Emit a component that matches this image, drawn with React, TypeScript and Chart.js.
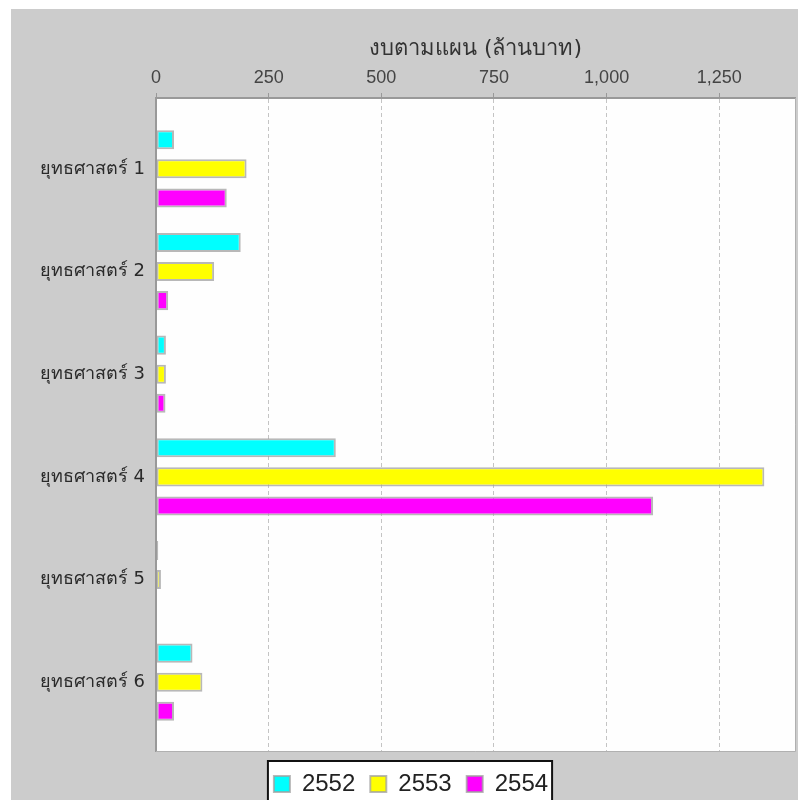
import React, { useEffect, useRef } from 'react';
import { Chart, registerables } from 'chart.js';

Chart.register(...registerables);

const categories = ['ยุทธศาสตร์ 1', 'ยุทธศาสตร์ 2', 'ยุทธศาสตร์ 3', 'ยุทธศาสตร์ 4', 'ยุทธศาสตร์ 5', 'ยุทธศาสตร์ 6'];
const seriesNames = ['2552', '2553', '2554'];
const values2552 = [40, 188, 22, 399, 5, 81];
const values2553 = [201, 129, 22, 1350, 11, 103];
const values2554 = [157, 27, 21, 1103, 0, 40];
const xTickValues = [0, 250, 500, 750, 1000, 1250];
const xAxisTitle = 'งบตามแผน (ล้านบาท)';
const seriesColors = ['#00ffff', '#ffff00', '#ff00ff'];

const FONT = "'DejaVu Sans', 'Liberation Sans', sans-serif";

const framePlugin = {
  id: 'framePlugin',
  afterLayout(chart: any) {
    const lg = chart.legend;
    if (lg) {
      lg.top += 6;
      lg.bottom += 6;
    }
  },
  beforeDraw(chart: any) {
    const { ctx, chartArea: a, width, height } = chart;
    ctx.save();
    ctx.fillStyle = '#cccccc';
    ctx.fillRect(11, 9, width - 11, height - 9);
    ctx.fillStyle = '#fefefe';
    ctx.fillRect(a.left, a.top, a.right - a.left, a.bottom - a.top);
    const lg = chart.legend;
    if (lg && lg.legendHitBoxes && lg.legendHitBoxes.length) {
      const hb = lg.legendHitBoxes;
      const last = hb[hb.length - 1];
      const l = hb[0].left - 6;
      const r = last.left + last.width + 4;
      const t = hb[0].top - 11;
      ctx.fillStyle = '#ffffff';
      ctx.fillRect(l, t, r - l, height - t + 5);
      ctx.strokeStyle = '#111111';
      ctx.lineWidth = 2;
      ctx.strokeRect(l, t, r - l, height - t + 5);
    }
    ctx.restore();
  },
  afterDatasetsDraw(chart: any) {
    const { ctx, chartArea: a } = chart;
    ctx.save();
    ctx.strokeStyle = '#b0b0b0';
    ctx.lineWidth = 1;
    ctx.beginPath();
    ctx.moveTo(a.right + 0.5, a.top);
    ctx.lineTo(a.right + 0.5, a.bottom + 0.5);
    ctx.lineTo(a.left, a.bottom + 0.5);
    ctx.stroke();
    ctx.restore();
  },
};

export default function App() {
  const ref = useRef<HTMLCanvasElement | null>(null);

  useEffect(() => {
    if (!ref.current) return;
    const seriesValues = [values2552, values2553, values2554];
    const chart = new Chart(ref.current, {
      type: 'bar',
      data: {
        datasets: seriesNames.map((name, si) => ({
          label: name,
          data: seriesValues[si].map((v, i) => ({ x: v, y: i })),
          backgroundColor: seriesColors[si],
          borderColor: 'rgba(160,160,160,0.75)',
          borderWidth: 2,
          borderSkipped: false,
          categoryPercentage: 0.85,
          barPercentage: 0.655,
        })),
      },
      plugins: [framePlugin],
      options: {
        indexAxis: 'y',
        responsive: false,
        animation: false,
        layout: { padding: { left: 27, right: 3, top: 9, bottom: 0 } },
        scales: {
          x: {
            type: 'linear',
            position: 'top',
            min: 0,
            max: 1418,
            afterFit: (axis: any) => {
              axis.height = 89;
            },
            afterBuildTicks: (axis: any) => {
              axis.ticks = xTickValues.map((v) => ({ value: v }));
            },
            ticks: {
              padding: 4,
              color: '#444444',
              font: { family: "'Liberation Sans', Arial, sans-serif", size: 18 },
              callback: (v: any) => Number(v).toLocaleString('en-US'),
            },
            grid: {
              color: '#c4c4c4',
              lineWidth: 1,
              tickLength: 5,
              tickColor: '#999999',
              drawOnChartArea: true,
            },
            border: { display: true, color: '#999999', width: 2, dash: [4, 3] },
            title: {
              display: true,
              text: xAxisTitle,
              color: '#333333',
              font: { family: FONT, size: 22 },
              padding: { top: 27, bottom: 0 },
            },
          },
          y: {
            type: 'linear',
            reverse: true,
            offset: false,
            min: -0.69,
            max: 5.67,
            afterFit: (axis: any) => {
              axis.width = 129;
            },
            afterBuildTicks: (axis: any) => {
              axis.ticks = categories.map((_, i) => ({ value: i }));
            },
            ticks: {
              padding: 11,
              color: '#2a2a2a',
              font: { family: FONT, size: 18 },
              callback: (v: any) => categories[Number(v)] ?? '',
            },
            grid: { display: false, drawTicks: false },
            border: { display: true, color: '#999999', width: 2 },
          },
        },
        plugins: {
          legend: {
            position: 'bottom',
            maxHeight: 50,
            labels: {
              boxWidth: 16,
              boxHeight: 16,
              padding: 15,
              color: '#222222',
              font: { family: "'Liberation Sans', Arial, sans-serif", size: 24 },
            },
          },
          tooltip: { enabled: false },
        },
      },
    });
    return () => chart.destroy();
  }, []);

  return (
    <div style={{ position: 'absolute', left: 0, top: 0, width: 798, height: 800 }}>
      <canvas ref={ref} width={798} height={800} />
    </div>
  );
}
